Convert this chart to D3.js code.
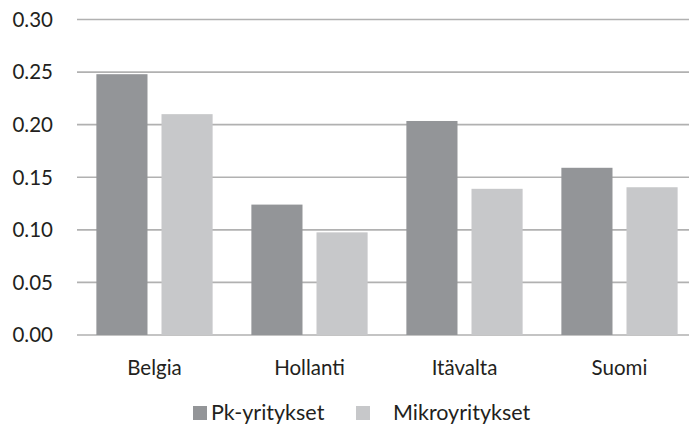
<!DOCTYPE html>
<html>
<head>
<meta charset="utf-8">
<script src="https://cdn.jsdelivr.net/npm/d3@7"></script>
<style>
  body { margin: 0; background: #fff; }
  svg { display: block; font-family: Lato, "Open Sans", sans-serif; }
</style>
</head>
<body>
<svg id="chart" width="689" height="426"></svg>
<script>
// data
const countries = ['Belgia', 'Hollanti', 'Itävalta', 'Suomi'];
const seriesNames = ['Pk-yritykset', 'Mikroyritykset'];
const pkValues = [0.248, 0.124, 0.2035, 0.159];
const mikroValues = [0.210, 0.0976, 0.139, 0.1405];
const yTicks = [0, 0.05, 0.10, 0.15, 0.20, 0.25, 0.30];
const colors = ['#939598', '#c7c8ca'];

const svg = d3.select('#chart');

// plot area
const x0 = d3.scaleBand().domain(countries).range([77, 697]).paddingInner(0.25).paddingOuter(0.125);
const x1 = d3.scaleBand().domain(seriesNames).range([0, x0.bandwidth()]).paddingInner(0.215);
const y = d3.scaleLinear().domain([0, 0.30]).range([335, 19.5]);

// gridlines
svg.append('g')
  .selectAll('line')
  .data(yTicks)
  .join('line')
  .attr('x1', 77)
  .attr('x2', 689)
  .attr('y1', d => y(d))
  .attr('y2', d => y(d))
  .attr('stroke', '#b1b1b1')
  .attr('stroke-width', 1.6);

// y labels
svg.append('g')
  .selectAll('text')
  .data(yTicks)
  .join('text')
  .attr('x', 53)
  .attr('y', d => y(d))
  .attr('dy', '0.36em')
  .attr('text-anchor', 'end')
  .attr('font-size', 20.5)
  .attr('fill', '#231f20')
  .text(d => d3.format('.2f')(d));

// bars
const rows = countries.map((c, i) => ({ country: c, values: [pkValues[i], mikroValues[i]] }));
svg.append('g')
  .selectAll('g')
  .data(rows)
  .join('g')
  .attr('transform', d => `translate(${x0(d.country)},0)`)
  .selectAll('rect')
  .data(d => d.values.map((v, j) => ({ name: seriesNames[j], value: v, j })))
  .join('rect')
  .attr('x', d => x1(d.name))
  .attr('width', x1.bandwidth())
  .attr('y', d => y(d.value))
  .attr('height', d => y(0) - y(d.value))
  .attr('fill', d => colors[d.j]);

// category labels
svg.append('g')
  .selectAll('text')
  .data(countries)
  .join('text')
  .attr('x', d => x0(d) + x0.bandwidth() / 2)
  .attr('y', 375)
  .attr('text-anchor', 'middle')
  .attr('font-size', 20.5)
  .attr('fill', '#231f20')
  .text(d => d);

// legend
const legendX = [193, 356];
const legendTextX = [211, 393];
const legend = svg.append('g');
seriesNames.forEach((name, i) => {
  legend.append('rect')
    .attr('x', legendX[i])
    .attr('y', 406)
    .attr('width', 14)
    .attr('height', 14)
    .attr('fill', colors[i]);
  legend.append('text')
    .attr('x', legendTextX[i])
    .attr('y', 420)
    .attr('font-size', 21.5)
    .attr('fill', '#231f20')
    .text(name);
});
</script>
</body>
</html>
